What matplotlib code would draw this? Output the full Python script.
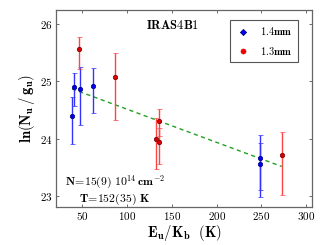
#!/usr/bin/env python3
"""Rotation diagram for IRAS4B1 (ln(N_u/g_u) vs E_u/K_b)."""

import matplotlib
matplotlib.use("Agg")
import matplotlib.pyplot as plt
from matplotlib.lines import Line2D
from matplotlib.ticker import FuncFormatter

plt.rcParams['mathtext.fontset'] = 'cm'

# 1.4mm transitions
eu_14 = [38.1, 40.9, 47.2, 61.4, 248.5, 248.5]
ln_14 = [24.39, 24.90, 24.86, 24.92, 23.66, 23.56]
up_14 = [24.72, 25.14, 25.25, 25.24, 24.07, 23.93]
lo_14 = [23.90, 24.57, 24.24, 24.44, 23.10, 22.97]

# 1.3mm transitions
eu_13 = [46.6, 86.5, 132.3, 135.7, 136.0, 273.3]
ln_13 = [25.56, 25.08, 24.00, 24.31, 23.94, 23.71]
up_13 = [25.78, 25.50, 24.36, 24.51, 24.18, 24.11]
lo_13 = [25.22, 24.32, 23.47, 24.05, 23.55, 23.01]

# rotation-diagram fit
fit_x = [38.4, 272.8]
fit_y = [24.87, 23.51]


def errs(vals, up, lo):
    return [[v - l for v, l in zip(vals, lo)], [u - v for v, u in zip(vals, up)]]


fig = plt.figure(figsize=(3.25, 2.45), dpi=100)
ax = fig.add_axes([0.171, 0.155, 0.79, 0.804])

ax.plot(fit_x, fit_y, '--', color='#22a022', lw=1.0, dashes=(3, 2.5), zorder=1)

ax.errorbar(eu_14, ln_14, yerr=errs(ln_14, up_14, lo_14), fmt='o', ms=3.2,
            color='#0000ee', mec='#000080', mew=0.5, ecolor='#3333ff',
            elinewidth=1.0, capsize=1.8, capthick=0.8, zorder=3)
ax.errorbar(eu_13, ln_13, yerr=errs(ln_13, up_13, lo_13), fmt='o', ms=3.2,
            color='#dd0000', mec='#700000', mew=0.5, ecolor='#ff4444',
            elinewidth=1.0, capsize=1.8, capthick=0.8, zorder=3)

ax.set_xlim(20, 307)
ax.set_ylim(22.8, 26.25)
ax.set_xticks([50, 100, 150, 200, 250, 300])
ax.set_yticks([23, 24, 25, 26])
fmt = FuncFormatter(lambda v, p: r'$\mathbf{%d}$' % v)
ax.xaxis.set_major_formatter(fmt)
ax.yaxis.set_major_formatter(fmt)
ax.tick_params(direction='in', top=True, right=True, labelsize=8,
               length=2.5, width=0.6, color='#555555', pad=2)
for s in ax.spines.values():
    s.set_color('#666666')
    s.set_linewidth(0.9)

ax.set_xlabel(r'$\mathbf{E_u/K_b\ \ (K)}$', fontsize=10.5, labelpad=1)
ax.set_ylabel(r'$\mathbf{ln(N_u\,/\,g_u)}$', fontsize=10.5, labelpad=2)

ax.text(0.457, 0.92, r'$\mathbf{IRAS4B1}$', transform=ax.transAxes,
        ha='center', va='center', fontsize=9)
ax.text(0.231, 0.125, r'$\mathbf{N\!=\!15(9)\ 10^{14}\,cm^{-2}}$',
        transform=ax.transAxes, ha='center', va='center', fontsize=8.5)
ax.text(0.231, 0.04, r'$\mathbf{T\!=\!152(35)\ K}$', transform=ax.transAxes,
        ha='center', va='center', fontsize=8.5)

handles = [Line2D([], [], ls='none', marker='D', ms=3.2, color='#0000ee',
                  mec='#000080', mew=0.5),
           Line2D([], [], ls='none', marker='o', ms=3.6, color='#ee0000',
                  mec='#ee0000', mew=0.5)]
leg = ax.legend(handles, [r'$\mathbf{1.4mm}$', r'$\mathbf{1.3mm}$'],
                loc='upper right', bbox_to_anchor=(0.965, 0.975), numpoints=1,
                fontsize=7.5, fancybox=False, framealpha=1, edgecolor='#555555',
                handlelength=1.5, handletextpad=0.9, borderpad=0.5,
                labelspacing=0.7)
leg.get_frame().set_linewidth(0.8)

fig.savefig('out.png', dpi=100)
